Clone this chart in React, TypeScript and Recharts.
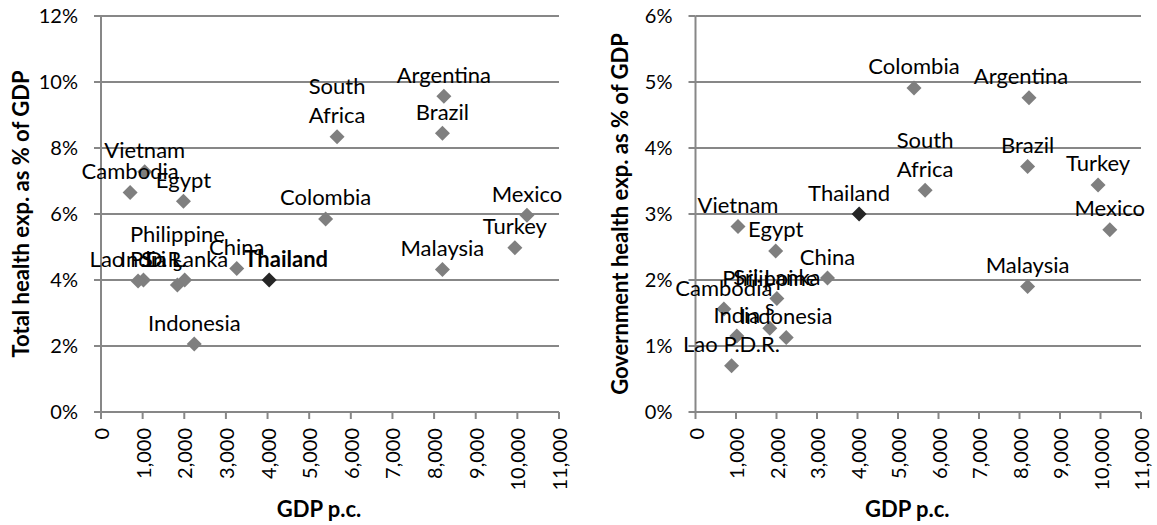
import React from 'react';
import {
  CartesianGrid,
  Label,
  Scatter,
  ScatterChart,
  XAxis,
  YAxis,
} from 'recharts';

// Countries, GDP per capita and health spending (% of GDP)
const countries = [
  'Argentina', 'Brazil', 'South Africa', 'Colombia', 'Mexico', 'Turkey',
  'Malaysia', 'China', 'Thailand', 'Egypt', 'Sri Lanka', 'Philippines',
  'Indonesia', 'India', 'Vietnam', 'Cambodia', 'Lao P.D.R.',
];
const gdpPerCapita = [
  8235, 8200, 5670, 5395, 10230, 9940,
  8200, 3260, 4040, 1980, 2010, 1835,
  2240, 1020, 1050, 700, 890,
];
const totalHealthPct = [
  9.57, 8.45, 8.34, 5.85, 5.96, 4.98,
  4.32, 4.35, 4.0, 6.39, 4.0, 3.85,
  2.06, 4.0, 7.28, 6.65, 3.97,
];
const govHealthPct = [
  4.76, 3.72, 3.36, 4.91, 2.76, 3.44,
  1.9, 2.03, 3.0, 2.44, 1.72, 1.27,
  1.13, 1.15, 2.81, 1.56, 0.7,
];

const xTicks = [0, 1000, 2000, 3000, 4000, 5000, 6000, 7000, 8000, 9000, 10000, 11000];
const leftYTicks = [0, 2, 4, 6, 8, 10, 12];
const rightYTicks = [0, 1, 2, 3, 4, 5, 6];

const highlight = 'Thailand';
const wrappedNames: Record<string, string[]> = {
  'South Africa': ['South', 'Africa'],
  Philippines: ['Philippine', 's'],
};

const FONT = 'Lato, "Noto Sans", sans-serif';
const GRID = '#878787';

type Point = { name: string; gdp: number; value: number };

const buildData = (values: number[]): Point[] =>
  countries.map((name, i) => ({ name, gdp: gdpPerCapita[i], value: values[i] }));

const diamond = (fill: string) => (props: any) => {
  const { cx, cy } = props;
  const r = 7.5;
  return (
    <polygon
      points={`${cx},${cy - r} ${cx + r},${cy} ${cx},${cy + r} ${cx - r},${cy}`}
      fill={fill}
    />
  );
};

const labelShape = (boldHighlight: boolean, offsets: Record<string, number>) => (props: any) => {
  const { cx, cy } = props;
  const name: string = props.payload?.name ?? props.name;
  const lines = wrappedNames[name] ?? [name];
  const dx = offsets[name] ?? 0;
  return (
    <g>
      {lines.map((line, i) => (
        <text
          key={i}
          x={cx + dx}
          y={cy - 22 - (lines.length - 1 - i) * 29}
          textAnchor="middle"
          dominantBaseline="central"
          fontFamily={FONT}
          fontSize={22}
          fontWeight={boldHighlight && name === highlight ? 700 : 400}
          fill="#000"
        >
          {line}
        </text>
      ))}
    </g>
  );
};

const XTick = (props: any) => {
  const { x, y, payload } = props;
  return (
    <text
      x={x}
      y={y}
      transform={`rotate(-90, ${x}, ${y})`}
      textAnchor="end"
      dominantBaseline="central"
      fontFamily={FONT}
      fontSize={20}
      fill="#000"
    >
      {payload.value.toLocaleString('en-US')}
    </text>
  );
};

type PanelProps = {
  values: number[];
  yTicks: number[];
  yTitle: string;
  yAxisWidth: number;
  titleX: number;
  rightMargin: number;
  width: number;
  boldHighlight: boolean;
  offsets: Record<string, number>;
};

function Panel({ values, yTicks, yTitle, yAxisWidth, titleX, rightMargin, width, boldHighlight, offsets }: PanelProps) {
  const data = buildData(values);
  const others = data.filter((d) => d.name !== highlight);
  const marked = data.filter((d) => d.name === highlight);
  return (
    <ScatterChart
      width={width}
      height={525}
      margin={{ top: 16, right: rightMargin, bottom: 33, left: 0 }}
    >
      <CartesianGrid horizontal vertical={false} stroke={GRID} strokeWidth={2} />
      <XAxis
        type="number"
        dataKey="gdp"
        domain={[0, 11000]}
        ticks={xTicks}
        interval={0}
        height={80}
        axisLine={{ stroke: GRID, strokeWidth: 2 }}
        tickLine={{ stroke: GRID, strokeWidth: 2 }}
        tickSize={7}
        tickMargin={9}
        tick={<XTick />}
      >
        <Label
          content={(p: any) => {
            const vb = p.viewBox;
            return (
              <text
                x={vb.x + vb.width / 2 - 11}
                y={508}
                textAnchor="middle"
                dominantBaseline="central"
                fontFamily={FONT}
                fontSize={22}
                fontWeight={700}
                fill="#000"
              >
                GDP p.c.
              </text>
            );
          }}
        />
      </XAxis>
      <YAxis
        type="number"
        dataKey="value"
        domain={[yTicks[0], yTicks[yTicks.length - 1]]}
        ticks={yTicks}
        interval={0}
        width={yAxisWidth}
        axisLine={{ stroke: GRID, strokeWidth: 2 }}
        tickLine={{ stroke: GRID, strokeWidth: 2 }}
        tickSize={7}
        tickMargin={16}
        tickFormatter={(v: number) => `${v}%`}
        tick={{ fill: '#000', fontSize: 20, fontFamily: FONT }}
      >
        <Label
          content={() => (
            <text
              x={titleX}
              y={214}
              transform={`rotate(-90, ${titleX}, 214)`}
              textAnchor="middle"
              dominantBaseline="central"
              fontFamily={FONT}
              fontSize={22}
              fontWeight={700}
              fill="#000"
            >
              {yTitle}
            </text>
          )}
        />
      </YAxis>
      <Scatter data={others} shape={diamond('#7f7f7f')} isAnimationActive={false} />
      <Scatter data={marked} shape={diamond('#262626')} isAnimationActive={false} />
      <Scatter data={data} shape={labelShape(boldHighlight, offsets)} isAnimationActive={false} />
    </ScatterChart>
  );
}

export default function App() {
  return (
    <div style={{ position: 'absolute', left: 0, top: 0, width: 1157, height: 525, background: '#fff', display: 'flex' }}>
      <Panel
        values={totalHealthPct}
        yTicks={leftYTicks}
        yTitle="Total health exp. as % of GDP"
        yAxisWidth={101}
        titleX={20}
        rightMargin={19}
        width={578}
        boldHighlight
        offsets={{ Thailand: 17 }}
      />
      <Panel
        values={govHealthPct}
        yTicks={rightYTicks}
        yTitle="Government health exp. as % of GDP"
        yAxisWidth={117.5}
        titleX={41}
        rightMargin={16}
        width={579}
        boldHighlight={false}
        offsets={{ Argentina: -8, Thailand: -10 }}
      />
    </div>
  );
}
